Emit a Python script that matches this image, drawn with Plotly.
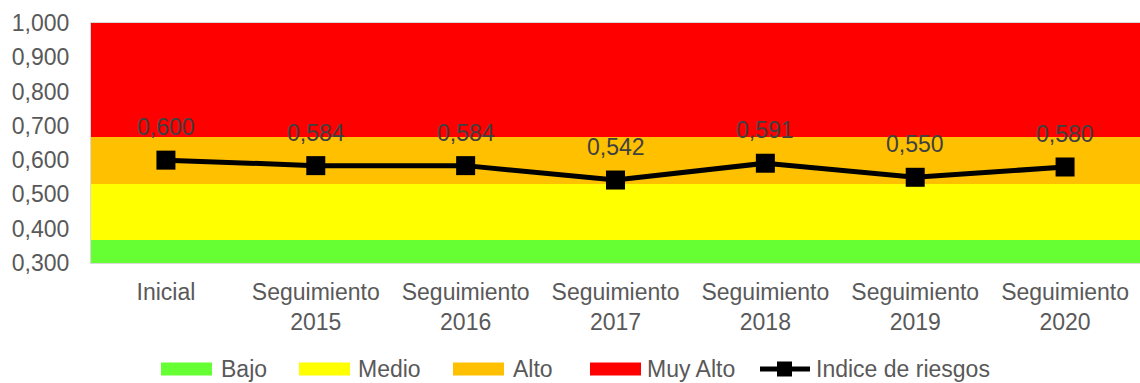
import plotly.graph_objects as go

# Categories and risk index values
categorias = ["Inicial", "Seguimiento<br>2015", "Seguimiento<br>2016", "Seguimiento<br>2017",
              "Seguimiento<br>2018", "Seguimiento<br>2019", "Seguimiento<br>2020"]
indice = [0.600, 0.584, 0.584, 0.542, 0.591, 0.550, 0.580]

# Risk bands (stacked segment heights, cumulative limits 0.367 / 0.529 / 0.668 / 1.000)
bajo = [0.367] * 7
medio = [0.162] * 7
alto = [0.139] * 7
muy_alto = [0.332] * 7

bandas = [("Bajo", bajo, "#66FF33"), ("Medio", medio, "#FFFF00"),
          ("Alto", alto, "#FFC000"), ("Muy Alto", muy_alto, "#FF0000")]

FONT = "Liberation Sans, Arial, sans-serif"
W, H = 1140, 383
ML, MR, MT, MB = 91, 0, 23, 120
PW, PH = W - ML - MR, H - MT - MB

fig = go.Figure()
for nombre, vals, color in bandas:
    fig.add_bar(x=categorias, y=vals, name=nombre, marker_color=color,
                marker_line_width=0, showlegend=False, hoverinfo="skip")

fig.add_scatter(x=categorias, y=indice, name="Indice de riesgos", mode="lines+markers",
                line=dict(color="black", width=5),
                marker=dict(symbol="square", size=19, color="black"),
                showlegend=False)

annotations = []
# Value labels above each point
for cat, v in zip(categorias, indice):
    annotations.append(dict(x=cat, y=v, xref="x", yref="y", text=f"{v:.3f}".replace(".", ","),
                            showarrow=False, yanchor="middle", yshift=33,
                            font=dict(family=FONT, size=23, color="#404040")))

# Legend drawn below the plot
def xp(px):
    return (px - ML) / PW

def yp(py):
    return (MT + PH - py) / PH

shapes = []
LY = 369
leyenda = [("Bajo", "#66FF33", 161, 219), ("Medio", "#FFFF00", 299, 356),
           ("Alto", "#FFC000", 453, 511), ("Muy Alto", "#FF0000", 590, 645)]
for nombre, color, x0, xt in leyenda:
    shapes.append(dict(type="rect", xref="paper", yref="paper",
                       x0=xp(x0), x1=xp(x0 + 51), y0=yp(LY + 6.5), y1=yp(LY - 6.5),
                       fillcolor=color, line_width=0, layer="above"))
    annotations.append(dict(text=nombre, xref="paper", yref="paper", x=xp(xt), y=yp(LY),
                            xanchor="left", yanchor="middle", showarrow=False,
                            font=dict(family=FONT, size=23, color="#595959")))
shapes.append(dict(type="line", xref="paper", yref="paper", x0=xp(760), x1=xp(810),
                   y0=yp(LY), y1=yp(LY), line=dict(color="black", width=5)))
shapes.append(dict(type="rect", xref="paper", yref="paper", x0=xp(777), x1=xp(792),
                   y0=yp(LY + 7.5), y1=yp(LY - 7.5), fillcolor="black", line_width=0))
annotations.append(dict(text="Indice de riesgos", xref="paper", yref="paper", x=xp(814), y=yp(LY),
                        xanchor="left", yanchor="middle", showarrow=False,
                        font=dict(family=FONT, size=23, color="#595959")))

fig.update_layout(
    width=W, height=H,
    margin=dict(l=ML, r=MR, t=MT, b=MB, pad=0),
    barmode="stack", bargap=0,
    separators=",.",
    paper_bgcolor="white", plot_bgcolor="white",
    font=dict(family=FONT, size=23, color="#595959"),
    shapes=shapes, annotations=annotations,
    showlegend=False,
)
fig.update_xaxes(showgrid=False, ticks="", showline=True, linecolor="#d9d9d9", linewidth=1,
                 mirror=True, tickfont=dict(family=FONT, size=23, color="#595959"),
                 ticklabelstandoff=8)
fig.update_yaxes(range=[0.3, 1.0], dtick=0.1, tick0=0.3, tickformat=".3f", showgrid=False,
                 zeroline=False, ticks="", showline=True, linecolor="#d9d9d9", linewidth=1,
                 mirror=True, tickfont=dict(family=FONT, size=23, color="#595959"),
                 ticklabelstandoff=16)

fig.write_html("out.html")
